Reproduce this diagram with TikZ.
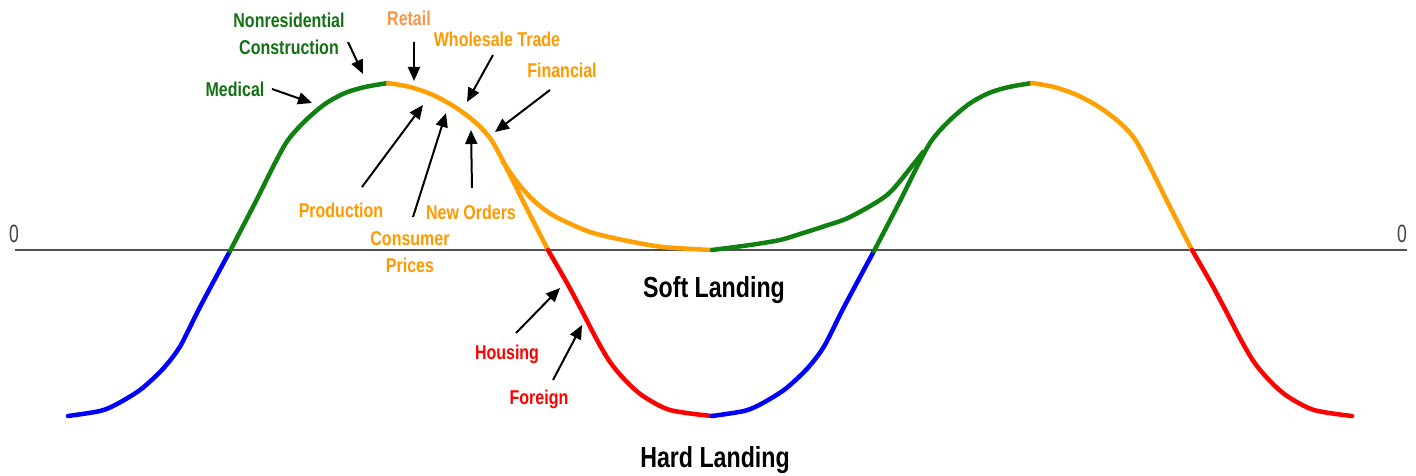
\documentclass[tikz,border=0pt]{standalone}
\usepackage{fontspec}
\setmainfont{Liberation Sans}[FakeStretch=0.80]
\newfontfamily\axisfont{Liberation Sans}[FakeStretch=0.70]
\usetikzlibrary{arrows.meta}

\definecolor{cgreen}{RGB}{16,128,16}
\definecolor{corange}{RGB}{255,160,0}
\definecolor{cred}{RGB}{255,0,0}
\definecolor{cblue}{RGB}{0,0,255}
\definecolor{lgreen}{RGB}{20,112,20}
\definecolor{lorange}{RGB}{255,153,0}
\definecolor{lretail}{RGB}{247,150,70}
\definecolor{axisgray}{RGB}{80,80,80}

\tikzset{
  curve/.style={line width=4.5pt, line join=round, line cap=round},
  lbl/.style={font=\bfseries\fontsize{20}{27}\selectfont, inner sep=0pt, align=center, anchor=base},
  big/.style={font=\bfseries\fontsize{29}{30}\selectfont, inner sep=0pt, anchor=base},
  zero/.style={font=\axisfont\fontsize{25}{26}\selectfont, text=axisgray!80!black, inner sep=0pt, anchor=base},
  pointer/.style={-{Triangle[length=14pt,width=12pt]}, line width=2pt, black},
}

\begin{document}
\begin{tikzpicture}[x=1pt,y=-1pt]
\useasboundingbox (0,0) rectangle (1416,476);

% zero line
\coordinate (axL) at (15,250);
\coordinate (axR) at (1407,250);
\draw[axisgray, line width=2pt] (axL) -- (axR);
\node[zero] (zeroL) at (14,242) {0};
\node[zero] (zeroR) at (1402,242) {0};

% soft landing branch
\draw[curve, corange] plot[smooth, tension=0.5] coordinates
  {(503,162) (517,182) (531,198) (545,210) (560,219) (590,232) (623,240) (663,247) (712,250)};
\draw[curve, cgreen] plot[smooth, tension=0.5] coordinates
  {(712,250) (750,245) (780,240) (800,234) (825,226) (850,217) (887,195) (912,166) (923,152)};

% first cycle
\draw[curve, cblue] plot[smooth, tension=0.5] coordinates
  {(68,416) (100,411) (117,404) (140,390) (160,372) (172,358) (182,343) (200,307) (230,251)};
\draw[curve, cgreen] plot[smooth, tension=0.5] coordinates
  {(230,251) (255,203) (275,163) (288,140) (305,121) (325,104) (345,93) (365,87) (388,83)};
\draw[curve, corange] plot[smooth, tension=0.5] coordinates
  {(388,83) (410,87) (433,95) (455,107) (475,122) (490,138) (503,161) (525,205) (548,250)};
\draw[curve, cred] plot[smooth, tension=0.5] coordinates
  {(548,250) (567,283) (583,313) (597,340) (610,362) (625,380) (643,396) (670,410) (712,416)};

% second cycle
\begin{scope}[xshift=644pt]
\draw[curve, cblue] plot[smooth, tension=0.5] coordinates
  {(68,416) (100,411) (117,404) (140,390) (160,372) (172,358) (182,343) (200,307) (230,251)};
\draw[curve, cgreen] plot[smooth, tension=0.5] coordinates
  {(230,251) (255,203) (275,163) (288,140) (305,121) (325,104) (345,93) (365,87) (388,83)};
\draw[curve, corange] plot[smooth, tension=0.5] coordinates
  {(388,83) (410,87) (433,95) (455,107) (475,122) (490,138) (503,161) (525,205) (548,250)};
\draw[curve, cred] plot[smooth, tension=0.5] coordinates
  {(548,250) (567,283) (583,313) (597,340) (610,362) (625,380) (643,396) (670,410) (708,416)};
\end{scope}

% labels
\node[lbl, text=lgreen] (medical) at (235,97) {Medical};
\node[lbl, text=lgreen, anchor=north] (nonres) at (289,13) {Nonresidential\\Construction};
\node[lbl, text=lretail] (retail) at (409,26) {Retail};
\node[lbl, text=lorange] (wholesale) at (497,47) {Wholesale Trade};
\node[lbl, text=lorange] (financial) at (562,78) {Financial};
\node[lbl, text=lorange] (production) at (341,217) {Production};
\node[lbl, text=lorange, anchor=north] (consumer) at (410,231) {Consumer\\Prices};
\node[lbl, text=lorange] (neworders) at (471,219) {New Orders};
\node[lbl, text=cred] (housing) at (507,359) {Housing};
\node[lbl, text=cred] (foreign) at (539,404) {Foreign};
\node[big] (soft) at (714,297) {Soft Landing};
\node[big] (hard) at (715,467) {Hard Landing};

% pointer tails and tips
\coordinate (medT) at (272,89);   \coordinate (medH) at (312,103);
\coordinate (nonT) at (348,42);   \coordinate (nonH) at (363,74);
\coordinate (retT) at (414,42);   \coordinate (retH) at (414,81);
\coordinate (whoT) at (493,55);   \coordinate (whoH) at (467,102);
\coordinate (finT) at (550,90);   \coordinate (finH) at (495,132);
\coordinate (proT) at (362,187);  \coordinate (proH) at (423,105);
\coordinate (conT) at (413,217);  \coordinate (conH) at (446,113);
\coordinate (newT) at (472,188);  \coordinate (newH) at (471,130);
\coordinate (houT) at (516,333);  \coordinate (houH) at (560,288);
\coordinate (forT) at (553,380);  \coordinate (forH) at (582,325);

\foreach \a in {med,non,ret,who,fin,pro,con,new,hou,for}
  \draw[pointer] (\a T) -- (\a H);
\end{tikzpicture}
\end{document}
